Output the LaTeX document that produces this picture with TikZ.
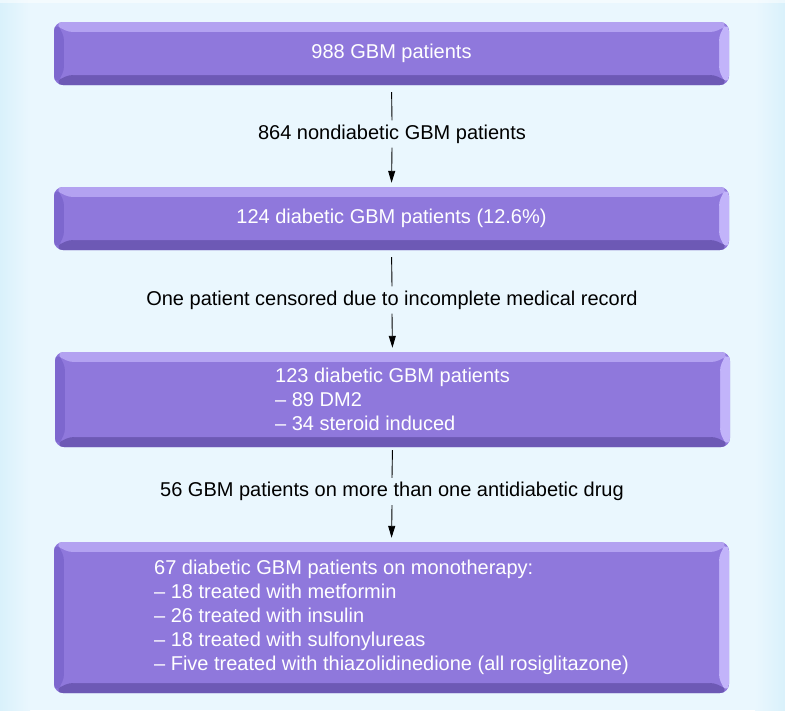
\documentclass[tikz,border=0pt]{standalone}
\usepackage{fontspec}
\setmainfont{Liberation Sans}
\usetikzlibrary{arrows.meta}
\definecolor{bgc}{HTML}{EAF7FE}
\definecolor{bgedge}{HTML}{D9F1FB}
\definecolor{face}{HTML}{8F78DC}
\definecolor{bevtop}{HTML}{B3A2F1}
\definecolor{bevright}{HTML}{C2B4FA}
\definecolor{bevbot}{HTML}{6D59B5}
\definecolor{bevleft}{HTML}{7D67CE}
\tikzset{
  bevbox/.style={rounded corners=9pt, minimum width=675pt, inner sep=0pt,
    font=\fontsize{20}{24}\selectfont, text=white, align=left,
    fill=face,
    path picture={
      \coordinate (nw) at (path picture bounding box.north west);
      \coordinate (ne) at (path picture bounding box.north east);
      \coordinate (sw) at (path picture bounding box.south west);
      \coordinate (se) at (path picture bounding box.south east);
      \fill[bevtop] (nw) -- (ne) -- ([shift={(-10pt,-10pt)}]ne) -- ([shift={(10pt,-10pt)}]nw) -- cycle;
      \fill[bevright] (ne) -- (se) -- ([shift={(-10pt,10pt)}]se) -- ([shift={(-10pt,-10pt)}]ne) -- cycle;
      \fill[bevbot] (se) -- (sw) -- ([shift={(10pt,10pt)}]sw) -- ([shift={(-10pt,10pt)}]se) -- cycle;
      \fill[bevleft] (sw) -- (nw) -- ([shift={(10pt,-10pt)}]nw) -- ([shift={(10pt,10pt)}]sw) -- cycle;
      \fill[face] ([shift={(10pt,-10pt)}]nw) rectangle ([shift={(-10pt,10pt)}]se);
    }},
  steplabel/.style={font=\fontsize{20}{24}\selectfont, text=black, inner sep=0pt, minimum height=27pt, fill=none},
  flowarrow/.style={line width=0.9pt, -{Triangle[length=12pt,width=7pt]}, shorten >=4pt},
  flowline/.style={line width=0.9pt, shorten <=7pt}
}
\begin{document}
\begin{tikzpicture}[x=1pt,y=-1pt]
\useasboundingbox (0,0) rectangle (785,710);
\fill[bgc] (0,0) rectangle (785,710);
\shade[left color=bgedge, right color=bgc] (0,0) rectangle (30,710);
\shade[left color=bgc, right color=bgedge] (755,0) rectangle (785,710);
\fill[white, opacity=0.5] (0,0) rectangle (785,3);

\node[bevbox, minimum height=63pt] (b1) at (391.5,53.5) {988 GBM patients};
\node[bevbox, minimum height=63pt] (b2) at (391.5,218.5) {124 diabetic GBM patients (12.6\%)};
\node[bevbox, minimum height=95pt] (b3) at (392.5,399.5) {123 diabetic GBM patients\\– 89 DM2\\– 34 steroid induced};
\node[bevbox, minimum height=151pt] (b4) at (391.5,617.5) {67 diabetic GBM patients on monotherapy:\\– 18 treated with metformin\\– 26 treated with insulin\\– 18 treated with sulfonylureas\\– Five treated with thiazolidinedione (all rosiglitazone)};

\node[steplabel] (l1) at (392,134) {864 nondiabetic GBM patients};
\node[steplabel] (l2) at (392,300) {One patient censored due to incomplete medical record};
\node[steplabel] (l3) at (392,491.5) {56 GBM patients on more than one antidiabetic drug};

\draw[flowline] (b1.south) -- (l1.north);
\draw[flowarrow] (l1.south) -- (b2.north);
\draw[flowline] (b2.south) -- (l2.north);
\draw[flowarrow] (l2.south) -- (b3.north);
\draw[flowline, shorten <=3pt] (b3.south) -- (l3.north);
\draw[flowarrow] (l3.south) -- (b4.north);
\end{tikzpicture}
\end{document}
